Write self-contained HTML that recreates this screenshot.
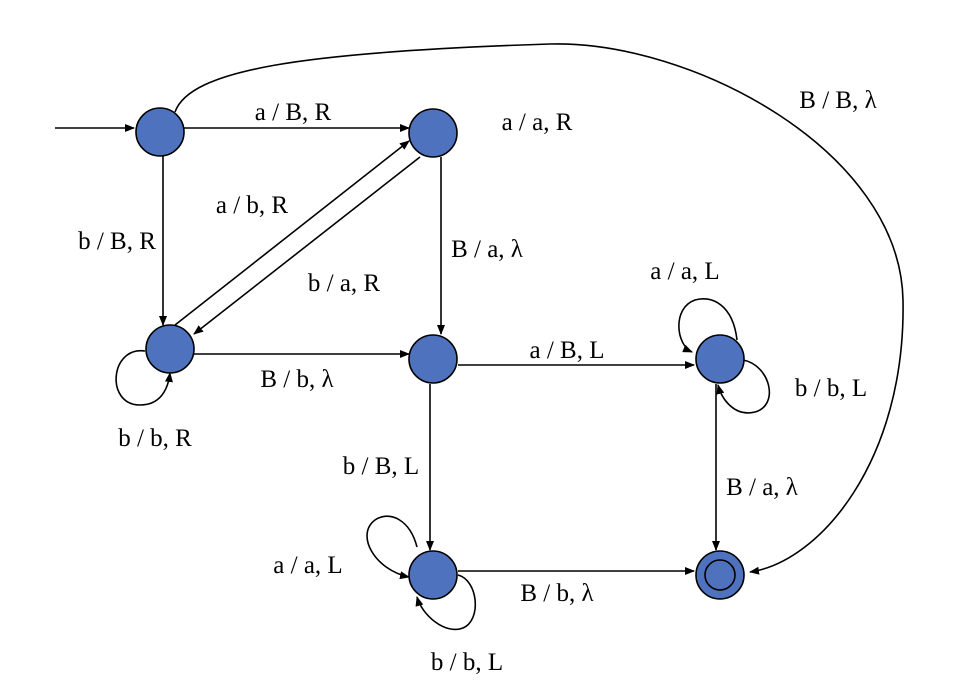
<!DOCTYPE html>
<html><head><style>body{margin:0;background:#fff}svg{display:block}text{font-family:"Liberation Serif",serif;font-size:25px;fill:#000;text-anchor:middle}</style></head>
<body>
<svg width="954" height="700" viewBox="0 0 954 700" xmlns="http://www.w3.org/2000/svg">
<defs><marker id="ar" markerWidth="10" markerHeight="8" refX="9" refY="4" orient="auto" markerUnits="userSpaceOnUse"><path d="M0,0 L10,4 L0,8 z" fill="#000"/></marker></defs>
<g stroke="#000" stroke-width="1.6" fill="none" marker-end="url(#ar)">
<line x1="55" y1="128" x2="134" y2="128"/>
<line x1="184" y1="128" x2="409" y2="128"/>
<line x1="163" y1="156" x2="163" y2="325"/>
<line x1="441" y1="157" x2="441" y2="334"/>
<line x1="194" y1="354" x2="409" y2="354"/>
<line x1="458" y1="365" x2="694" y2="365"/>
<line x1="430" y1="384" x2="430" y2="550"/>
<line x1="716" y1="384" x2="716" y2="550"/>
<line x1="458" y1="571" x2="694" y2="571"/>
<line x1="175" y1="325" x2="409" y2="141"/>
<line x1="420" y1="157" x2="194" y2="334"/>
<path d="M145,351 C110,346 105,405 140,405 C160,405 168,390 170,373"/>
<path d="M737,340 C733,305 712,295 695,300 C672,308 676,345 692,352"/>
<path d="M743,360 C770,365 780,405 755,412 C735,417 722,400 718,385"/>
<path d="M417,547 C410,520 390,510 375,520 C355,535 375,570 409,577"/>
<path d="M458,575 C478,580 482,620 463,628 C445,635 422,615 417,597"/>
<path d="M175,112 C190,70 300,52 550,44 C690,40 900,150 903,300 C906,460 820,562 750,572"/>
</g>
<g fill="#4f72be" stroke="#000" stroke-width="1.6">
<circle cx="160" cy="132" r="24"/>
<circle cx="433" cy="133" r="24"/>
<circle cx="170" cy="349" r="24"/>
<circle cx="433" cy="359" r="24"/>
<circle cx="720" cy="359" r="24"/>
<circle cx="433" cy="575" r="24"/>
<circle cx="720" cy="575" r="24"/>
<circle cx="720" cy="575" r="15"/>
</g>
<text x="293" y="120">a / B, R</text>
<text x="537" y="130">a / a, R</text>
<text x="838" y="108">B / B, λ</text>
<text x="117" y="249">b / B, R</text>
<text x="252" y="213">a / b, R</text>
<text x="487" y="257">B / a, λ</text>
<text x="344" y="291">b / a, R</text>
<text x="685" y="279">a / a, L</text>
<text x="297" y="387">B / b, λ</text>
<text x="567" y="358">a / B, L</text>
<text x="831" y="396">b / b, L</text>
<text x="155" y="446">b / b, R</text>
<text x="381" y="474">b / B, L</text>
<text x="762" y="495">B / a, λ</text>
<text x="308" y="573">a / a, L</text>
<text x="557" y="601">B / b, λ</text>
<text x="467" y="670">b / b, L</text>
</svg>
</body></html>
